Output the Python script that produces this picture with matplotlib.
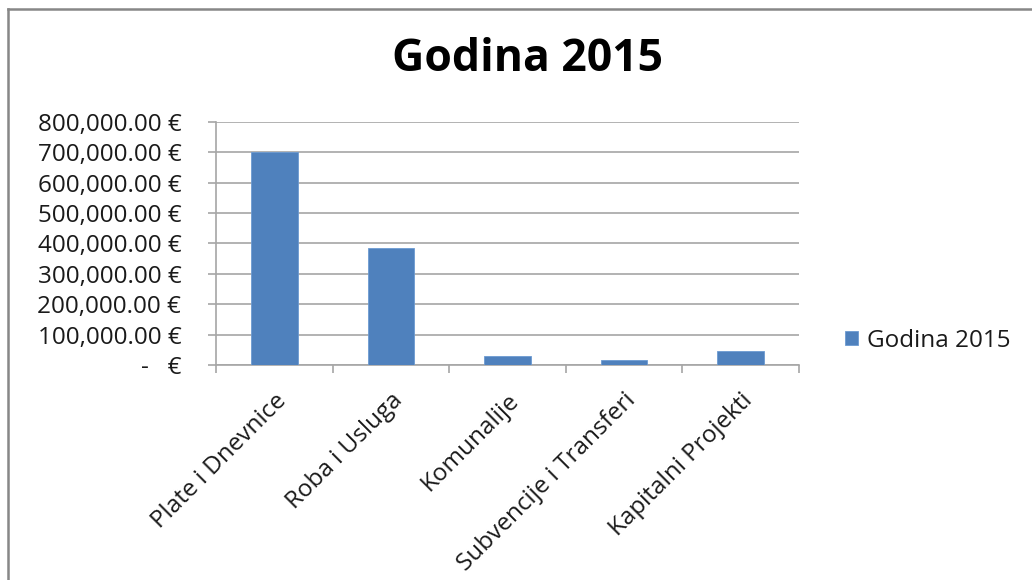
import matplotlib.pyplot as plt
from matplotlib.lines import Line2D
from matplotlib.ticker import FuncFormatter

categories = ['Plate i Dnevnice', 'Roba i Usluga', 'Komunalije',
              'Subvencije i Transferi', 'Kapitalni Projekti']
values = [700000, 385000, 31000, 17500, 47000]
series_name = 'Godina 2015'

plt.rcParams['font.family'] = ['Open Sans', 'DejaVu Sans']

fig = plt.figure(figsize=(10.32, 5.8), dpi=100)
ax = fig.add_axes([0.2093, 0.3707, 0.5649, 0.4190])

bar_color = '#4F81BD'
grid_color = '#A6A6A6'
text_color = '#1A1A1A'
fs = 17.5

x = range(len(categories))
ax.bar(x, values, width=0.4, color=bar_color, edgecolor='#6C9BD2',
       linewidth=0.6, label=series_name, zorder=3)

ax.set_xlim(-0.5, len(categories) - 0.5)
ax.set_ylim(0, 800000)
ax.set_yticks(range(0, 800001, 100000))


def euro(v, pos):
    if v == 0:
        return '-   €'
    return '{:,.2f} €'.format(v)


ax.yaxis.set_major_formatter(FuncFormatter(euro))
ax.grid(axis='y', color=grid_color, linewidth=1.2, zorder=0)

# category boundaries get the tick marks, labels sit under the bars
ax.set_xticks([i - 0.5 for i in range(len(categories) + 1)])
ax.set_xticklabels([])
ax.set_xticks(list(x), minor=True)
ax.set_xticklabels(categories, minor=True, rotation=45, ha='right',
                   va='top', rotation_mode='anchor', fontsize=fs,
                   color=text_color)
ax.tick_params(axis='x', which='minor', length=0, pad=17)
ax.tick_params(axis='x', which='major', length=6, color=grid_color, width=1.2)
ax.tick_params(axis='y', length=6, color=grid_color, width=1.2,
               labelsize=fs, labelcolor=text_color, pad=19)

for s in ['top', 'right']:
    ax.spines[s].set_visible(False)
for s in ['left', 'bottom']:
    ax.spines[s].set_color(grid_color)
    ax.spines[s].set_linewidth(1.2)

fig.text(0.511, 0.897, series_name, ha='center', va='center',
         fontsize=32, fontweight='bold', color='#000000')

ax.legend(loc='center left', bbox_to_anchor=(1.062, 0.10), frameon=False,
          fontsize=fs, handlelength=0.55, handleheight=0.55,
          handletextpad=0.35, borderaxespad=0, labelcolor=text_color)

# chart frame (only top and left edges are visible in the crop)
fig.add_artist(Line2D([8 / 1032, 8 / 1032], [0, 571 / 580],
                      transform=fig.transFigure, color='#878787', lw=1.8))
fig.add_artist(Line2D([8 / 1032, 1], [571 / 580, 571 / 580],
                      transform=fig.transFigure, color='#878787', lw=1.8))

fig.savefig('out.png', dpi=100)
